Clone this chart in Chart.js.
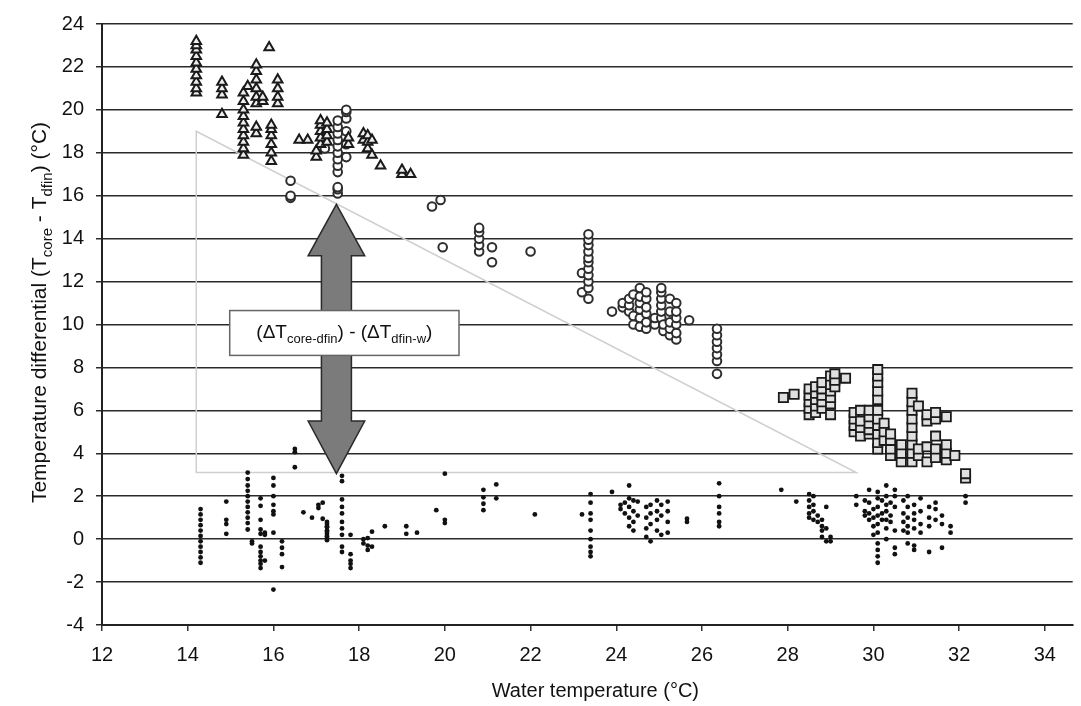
<!DOCTYPE html>
<html>
<head>
<meta charset="utf-8">
<script src="https://cdn.jsdelivr.net/npm/chart.js@4/dist/chart.umd.min.js"></script>
<style>
  html, body { margin: 0; background: #fff; }
  #wrap { position: relative; width: 1081px; height: 706px; }
</style>
</head>
<body>
<div id="wrap"><canvas id="chart"></canvas></div>
<script>
const xTicks = [12, 14, 16, 18, 20, 22, 24, 26, 28, 30, 32, 34];

// Each entry: [water temperature, [temperature differentials...]]
const triangles = [
  [14.2, [20.8, 21.0, 21.3, 21.6, 21.9, 22.2, 22.5, 22.8, 23.0, 23.2]],
  [14.8, [19.8, 20.7, 21.0, 21.3]],
  [15.3, [17.9, 18.2, 18.5, 18.8, 19.1, 19.4, 19.7, 20.0, 20.4, 20.8]],
  [15.4, [21.1]],
  [15.6, [18.9, 19.2, 20.3, 20.6, 21.0, 21.4, 21.8, 22.1]],
  [15.75, [20.4, 20.6]],
  [15.9, [22.9]],
  [15.95, [17.6, 18.0, 18.4, 18.8, 19.1, 19.3]],
  [16.1, [20.3, 20.6, 21.0, 21.4]],
  [16.6, [18.6]],
  [16.8, [18.6]],
  [17.0, [17.8, 18.1]],
  [17.1, [18.4, 18.7, 19.0, 19.3, 19.5]],
  [17.25, [18.5, 18.8, 19.1, 19.4]],
  [17.75, [18.4, 18.7]],
  [18.1, [18.6, 18.9]],
  [18.2, [18.2, 18.5, 18.8]],
  [18.3, [17.9, 18.6]],
  [18.5, [17.4]],
  [19.0, [17.0, 17.2]],
  [19.2, [17.0]]
];

const circles = [
  [16.4, [15.9, 16.0, 16.7]],
  [17.2, [18.2, 18.6, 18.9]],
  [17.5, [16.1, 16.3, 16.4, 17.1, 17.4, 17.7, 18.0, 18.3, 18.6, 18.9, 19.2, 19.5]],
  [17.7, [17.8, 18.4, 19.0, 19.6, 19.9, 20.0]],
  [19.7, [15.5]],
  [19.9, [15.8]],
  [19.95, [13.6]],
  [20.8, [13.4, 13.7, 14.0, 14.3, 14.5]],
  [21.1, [12.9, 13.6]],
  [22.0, [13.4]],
  [23.2, [11.5, 12.4]],
  [23.35, [11.2, 11.7, 12.0, 12.3, 12.6, 12.9, 13.1, 13.4, 13.7, 13.95, 14.2]],
  [23.9, [10.6]],
  [24.15, [10.8, 11.0]],
  [24.3, [10.6, 10.9, 11.2]],
  [24.4, [10.0, 10.4, 11.4]],
  [24.55, [9.9, 10.3, 10.7, 11.0, 11.3, 11.7]],
  [24.7, [9.8, 10.1, 10.5, 10.8, 11.2, 11.5]],
  [24.9, [10.0, 10.3]],
  [25.05, [10.3, 10.6, 10.9, 11.2, 11.5, 11.7]],
  [25.1, [9.7, 10.0]],
  [25.25, [9.5, 9.8, 10.1, 10.6, 11.2]],
  [25.4, [9.3, 9.6, 10.0, 10.3, 10.6, 11.0]],
  [25.7, [10.2]],
  [26.35, [7.7, 8.3, 8.6, 8.9, 9.2, 9.5, 9.8]]
];

const squares = [
  [27.9, [6.6]],
  [28.15, [6.75]],
  [28.5, [5.8, 6.1, 6.4, 6.7, 7.0]],
  [28.65, [5.9, 6.2, 6.5, 6.8, 7.1]],
  [28.8, [6.1, 6.4, 6.7, 7.0, 7.3]],
  [29.0, [5.8, 6.3, 6.6, 6.9, 7.2, 7.6]],
  [29.1, [7.1, 7.4, 7.7]],
  [29.35, [7.5]],
  [29.55, [5.0, 5.3, 5.6, 5.9]],
  [29.7, [4.8, 5.2, 5.5, 6.0]],
  [29.9, [4.9, 5.1, 5.4, 5.7, 6.0]],
  [30.1, [4.2, 4.5, 4.9, 5.3, 5.6, 6.0, 6.5, 6.9, 7.3, 7.6, 7.9]],
  [30.25, [4.6, 5.0, 5.4]],
  [30.4, [3.9, 4.2, 4.6, 4.9]],
  [30.65, [3.6, 4.0, 4.4]],
  [30.9, [3.6, 4.0, 4.4, 4.8, 5.2, 5.6, 6.0, 6.4, 6.8]],
  [31.05, [3.9, 4.2, 6.2]],
  [31.25, [3.6, 4.3, 5.5, 5.8]],
  [31.45, [3.8, 4.2, 4.8, 5.6, 5.9]],
  [31.7, [3.7, 4.0, 4.4, 5.7]],
  [31.9, [3.9]],
  [32.15, [2.85, 3.05]]
];

const dots = [
  [14.3, [1.4, 1.15, 0.9, 0.65, 0.4, 0.15, -0.1, -0.35, -0.6, -0.85, -1.1]],
  [14.9, [1.75, 0.9, 0.7, 0.25]],
  [15.4, [3.1, 2.8, 2.5, 2.25, 2.0, 1.75, 1.5, 1.25, 1.0, 0.75, 0.45]],
  [15.5, [-0.1, -0.2]],
  [15.7, [1.9, 1.55, 0.9, 0.45, 0.25, -0.35, -0.6, -0.8, -1.0, -1.15, -1.35]],
  [15.8, [0.3, 0.2, -1.0]],
  [16.0, [2.85, 2.5, 2.0, 1.6, 1.3, 1.15, 0.3, -2.35]],
  [16.2, [-0.1, -0.4, -0.7, -1.3]],
  [16.5, [4.2, 4.05, 3.35]],
  [16.7, [1.25]],
  [16.9, [1.0]],
  [17.05, [1.6, 1.45]],
  [17.15, [1.7, 0.95]],
  [17.25, [0.8, 0.7, 0.6, 0.55, 0.4, 0.35, 0.25, 0.15, 0.1, -0.05]],
  [17.6, [2.95, 2.7, 1.85, 1.5, 1.2, 0.8, 0.5, 0.2, -0.35, -0.6]],
  [17.8, [0.2, -0.7, -1.0, -1.15, -1.35]],
  [18.1, [0.0, -0.2]],
  [18.2, [0.05, -0.3, -0.5]],
  [18.3, [0.35, -0.35]],
  [18.6, [0.6]],
  [19.1, [0.6, 0.25]],
  [19.35, [0.3]],
  [19.8, [1.35]],
  [20.0, [3.05, 0.9, 0.75]],
  [20.9, [2.3, 1.95, 1.65, 1.35]],
  [21.2, [2.55, 1.9]],
  [22.1, [1.15]],
  [23.2, [1.15]],
  [23.4, [2.1, 1.7, 1.2, 0.9, 0.4, 0.0, -0.35, -0.6, -0.8]],
  [23.9, [2.2]],
  [24.1, [1.6, 1.4]],
  [24.2, [1.7, 1.2]],
  [24.3, [2.5, 1.9, 1.5, 1.0, 0.6]],
  [24.4, [1.8, 1.3, 0.8, 0.4]],
  [24.5, [1.75, 1.1]],
  [24.7, [1.5, 1.0, 0.5, 0.1]],
  [24.8, [1.6, 1.2, 0.7, -0.1]],
  [24.95, [1.8, 1.3, 0.9, 0.4]],
  [25.05, [1.6, 1.1, 0.2]],
  [25.2, [1.75, 1.3, 0.8, 0.3]],
  [25.65, [0.95, 0.8]],
  [26.4, [2.6, 2.0, 1.5, 1.2, 0.8, 0.6]],
  [27.85, [2.3]],
  [28.2, [1.75]],
  [28.5, [2.1, 1.8, 1.5, 1.2, 1.0]],
  [28.6, [2.0, 1.6, 1.3, 0.9]],
  [28.7, [1.1, 0.8]],
  [28.8, [0.9, 0.6, 0.4, 0.1]],
  [28.9, [1.5, 0.5, -0.1]],
  [29.0, [0.1, -0.1]],
  [29.6, [2.0, 1.6]],
  [29.8, [1.8, 1.3, 1.1]],
  [29.9, [2.3, 1.7, 1.2, 0.9]],
  [30.0, [1.4, 1.0, 0.6, 0.2]],
  [30.1, [2.2, 1.9, 1.5, 1.1, 0.7, 0.3, -0.2, -0.5, -0.8, -1.1]],
  [30.2, [1.8, 1.2, 0.9]],
  [30.3, [2.5, 2.0, 1.6, 1.3, 0.9, 0.5, 0.0]],
  [30.4, [1.7, 1.1, 0.8]],
  [30.5, [2.3, 2.0, 1.5, 0.4, -0.4, -0.7]],
  [30.7, [1.8, 1.2, 0.8, 0.4]],
  [30.8, [2.0, 1.5, 1.0, 0.6, 0.3, -0.2]],
  [30.95, [1.6, 1.2, 0.9, 0.5, -0.3, -0.5]],
  [31.1, [1.9, 1.3, 0.7, 0.3]],
  [31.3, [1.5, 1.0, 0.6, -0.6]],
  [31.45, [1.7, 1.4, 0.9]],
  [31.6, [1.1, 0.7, -0.4]],
  [31.8, [0.6, 0.3]],
  [32.15, [2.0, 1.7]]
];

// Annotation shapes, in axis units
const wedge = [[14.2, 19.0], [14.2, 3.1], [29.6, 3.1]];
const arrow = { x: 17.47, top: 15.6, bottom: 3.05, headTop: 13.2, headBottom: 5.5, headHalf: 0.66, shaftHalf: 0.35 };
const labelBox = { x0: 14.98, x1: 20.33, y0: 8.56, y1: 10.65 };

const FONT = '"Liberation Sans", Arial, sans-serif';

function flatten(cols) {
  const out = [];
  cols.forEach(([x, ys]) => ys.forEach(y => out.push({ x, y })));
  return out;
}

// draws text made of [text, isSubscript] runs, centred on x
function drawRuns(ctx, runs, x, y, size) {
  const sub = Math.round(size * 0.7);
  let w = 0;
  runs.forEach(([t, s]) => {
    ctx.font = (s ? sub : size) + 'px ' + FONT;
    w += ctx.measureText(t).width;
  });
  let cx = x - w / 2;
  ctx.textAlign = 'left';
  ctx.textBaseline = 'alphabetic';
  runs.forEach(([t, s]) => {
    ctx.font = (s ? sub : size) + 'px ' + FONT;
    ctx.fillText(t, cx, y + (s ? size * 0.28 : 0));
    cx += ctx.measureText(t).width;
  });
}

const overlay = {
  id: 'overlay',
  beforeDatasetsDraw(chart) {
    const { ctx, scales: { x, y } } = chart;
    ctx.save();
    ctx.strokeStyle = '#cfcfcf';
    ctx.lineWidth = 1.5;
    ctx.beginPath();
    wedge.forEach(([wx, wy], i) => {
      const px = x.getPixelForValue(wx), py = y.getPixelForValue(wy);
      i ? ctx.lineTo(px, py) : ctx.moveTo(px, py);
    });
    ctx.closePath();
    ctx.stroke();
    ctx.restore();
  },
  afterDatasetsDraw(chart) {
    const { ctx, scales: { x, y } } = chart;
    const X = v => x.getPixelForValue(v), Y = v => y.getPixelForValue(v);
    ctx.save();
    // double arrow
    const a = arrow;
    const pts = [
      [a.x, a.top],
      [a.x + a.headHalf, a.headTop], [a.x + a.shaftHalf, a.headTop],
      [a.x + a.shaftHalf, a.headBottom], [a.x + a.headHalf, a.headBottom],
      [a.x, a.bottom],
      [a.x - a.headHalf, a.headBottom], [a.x - a.shaftHalf, a.headBottom],
      [a.x - a.shaftHalf, a.headTop], [a.x - a.headHalf, a.headTop]
    ];
    ctx.beginPath();
    pts.forEach(([px, py], i) => i ? ctx.lineTo(X(px), Y(py)) : ctx.moveTo(X(px), Y(py)));
    ctx.closePath();
    ctx.fillStyle = '#7b7b7b';
    ctx.fill();
    ctx.strokeStyle = '#2a2a2a';
    ctx.lineWidth = 1.5;
    ctx.stroke();

    // label box
    const bx0 = X(labelBox.x0), bx1 = X(labelBox.x1);
    const by0 = Y(labelBox.y1), by1 = Y(labelBox.y0);
    ctx.fillStyle = '#fff';
    ctx.fillRect(bx0, by0, bx1 - bx0, by1 - by0);
    ctx.strokeStyle = '#666';
    ctx.lineWidth = 1.5;
    ctx.strokeRect(bx0, by0, bx1 - bx0, by1 - by0);
    ctx.fillStyle = '#111';
    drawRuns(ctx, [['(\u0394T', 0], ['core-dfin', 1], [') - (\u0394T', 0], ['dfin-w', 1], [')', 0]],
      (bx0 + bx1) / 2, (by0 + by1) / 2 + 5, 19);
    ctx.restore();
  },
  afterDraw(chart) {
    const { ctx, chartArea } = chart;
    ctx.save();
    ctx.fillStyle = '#111';
    drawRuns(ctx, [['Water temperature (\u00B0C)', 0]], (chartArea.left + chartArea.right) / 2 + 8, 697, 20);
    ctx.translate(46, (chartArea.top + chartArea.bottom) / 2 - 12);
    ctx.rotate(-Math.PI / 2);
    drawRuns(ctx, [['Temperature differential (T', 0], ['core', 1], [' - T', 0], ['dfin', 1], [') (\u00B0C)', 0]], 0, 0, 21);
    ctx.restore();
  }
};

function series(cols, style) {
  return Object.assign({ data: flatten(cols) }, style);
}

new Chart(document.getElementById('chart'), {
  type: 'scatter',
  data: {
    datasets: [
      series(dots, { pointStyle: 'circle', pointRadius: 2.4, backgroundColor: '#111', borderColor: '#111', borderWidth: 0 }),
      series(triangles, { pointStyle: 'triangle', pointRadius: 5.5, backgroundColor: '#eeeeee', borderColor: '#1a1a1a', borderWidth: 2 }),
      series(circles, { pointStyle: 'circle', pointRadius: 4.3, backgroundColor: '#fff', borderColor: '#2e2e2e', borderWidth: 2 }),
      series(squares, { pointStyle: 'rect', pointRadius: 6.5, backgroundColor: '#e0e0e0', borderColor: '#1a1a1a', borderWidth: 1.8 })
    ]
  },
  options: {
    responsive: true,
    maintainAspectRatio: false,
    animation: false,
    layout: { padding: { top: 20, right: 3, left: 0, bottom: 0 } },
    plugins: { legend: { display: false }, tooltip: { enabled: false } },
    scales: {
      x: {
        type: 'linear',
        min: 12,
        max: 34.65,
        afterBuildTicks: s => { s.ticks = xTicks.map(v => ({ value: v })); },
        afterFit: s => { s.height = 81; },
        ticks: { color: '#111', font: { size: 20, family: FONT }, padding: 12, maxRotation: 0, autoSkip: false },
        grid: { drawOnChartArea: false, drawTicks: true, tickLength: 6, color: '#333', lineWidth: 1.5 },
        border: { color: '#222', width: 2 }
      },
      y: {
        min: -4,
        max: 24,
        afterFit: s => { s.width = 102; },
        ticks: { stepSize: 2, color: '#111', font: { size: 20, family: FONT }, padding: 12 },
        grid: { color: '#2a2a2a', lineWidth: 1.5, tickLength: 6 },
        border: { color: '#222', width: 2 }
      }
    }
  },
  plugins: [overlay]
});
</script>
</body>
</html>
